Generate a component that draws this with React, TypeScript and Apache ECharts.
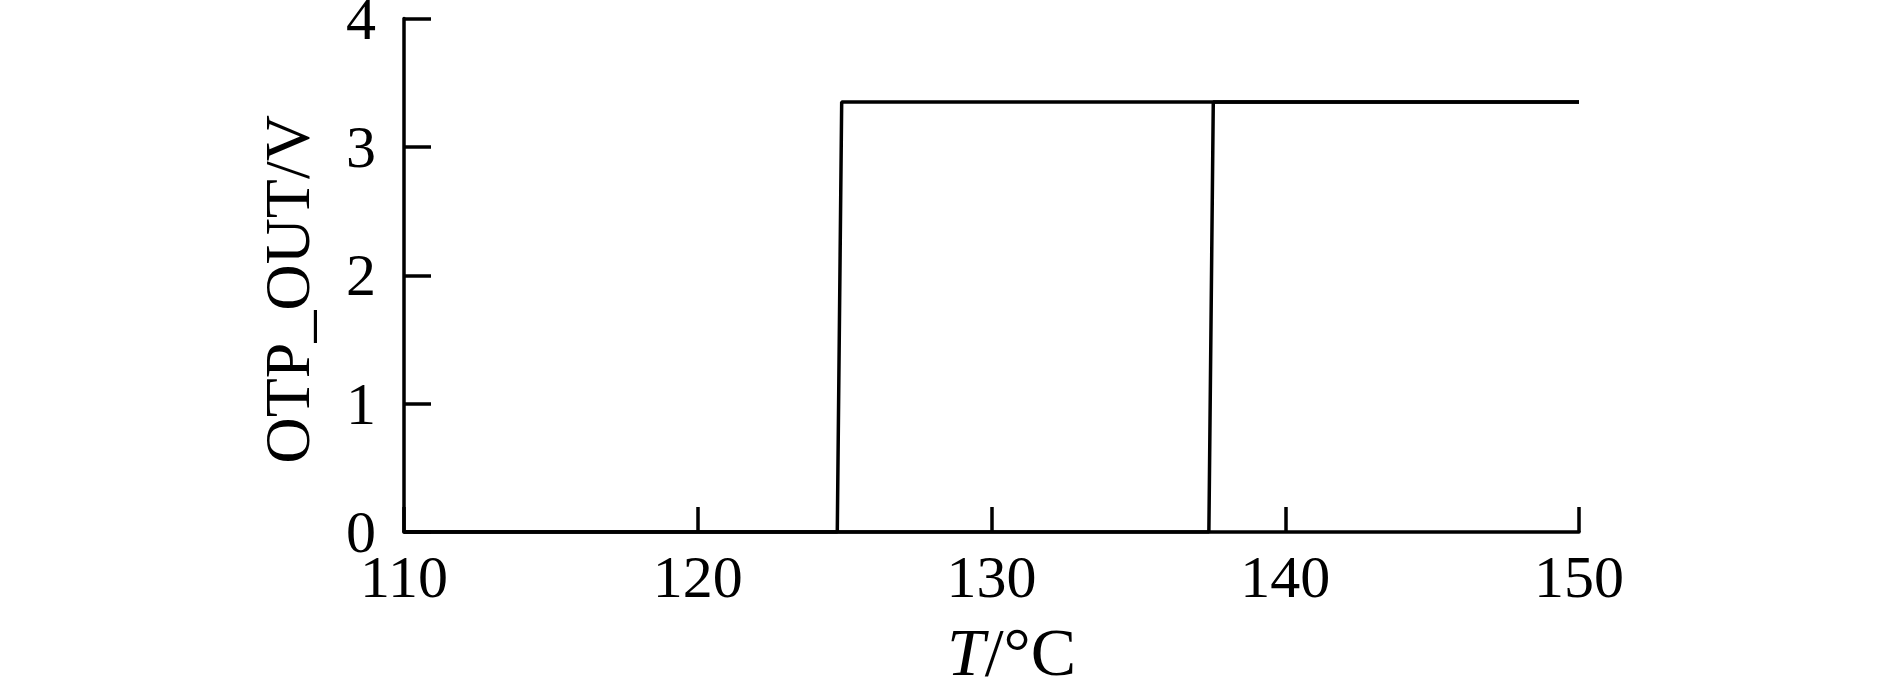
import React, { useEffect, useRef } from "react";
import * as echarts from "echarts";

const xTicks = [110, 120, 130, 140, 150];
const yTicks = [0, 1, 2, 3, 4];
const risingT = [110, 124.75, 124.9, 150];
const risingV = [0, 0, 3.35, 3.35];
const fallingT = [110, 137.4, 137.55, 150];
const fallingV = [0, 0, 3.35, 3.35];

const FONT = "'Times New Roman', 'Liberation Serif', serif";

export default function App() {
  const ref = useRef<HTMLDivElement>(null);
  useEffect(() => {
    if (!ref.current) return;
    const chart = echarts.init(ref.current, null, { renderer: "svg" });
    const pairs = (xs: number[], ys: number[]) => xs.map((x, i) => [x, ys[i]]);
    chart.setOption({
      animation: false,
      backgroundColor: "#ffffff",
      grid: {
        left: 404,
        top: 18.5,
        right: 310,
        bottom: 147,
        containLabel: false,
        outerBoundsMode: "none",
      },
      xAxis: {
        type: "value",
        min: xTicks[0],
        max: xTicks[xTicks.length - 1],
        interval: 10,
        name: "{i|T}/°C",
        nameLocation: "middle",
        nameGap: 86,
        nameTextStyle: {
          fontFamily: FONT,
          fontSize: 68,
          color: "#000",
          padding: [0, 0, 0, 40],
          rich: {
            i: { fontFamily: FONT, fontSize: 68, fontStyle: "italic", color: "#000" },
          },
        },
        axisLine: { show: true, lineStyle: { color: "#000", width: 3.5 } },
        axisTick: { show: true, inside: true, length: 25, lineStyle: { color: "#000", width: 3.5 } },
        axisLabel: { fontFamily: FONT, fontSize: 60, color: "#000", margin: 15, hideOverlap: false },
        splitLine: { show: false },
      },
      yAxis: {
        type: "value",
        min: yTicks[0],
        max: yTicks[yTicks.length - 1],
        interval: 1,
        name: "OTP_OUT/V",
        nameLocation: "middle",
        nameGap: 85,
        nameTextStyle: { fontFamily: FONT, fontSize: 64, color: "#000", padding: [0, 28, 0, 0] },
        axisLine: { show: true, lineStyle: { color: "#000", width: 3.5 } },
        axisTick: { show: true, inside: true, length: 27, lineStyle: { color: "#000", width: 3.5 } },
        axisLabel: { fontFamily: FONT, fontSize: 60, color: "#000", margin: 28, hideOverlap: false },
        splitLine: { show: false },
      },
      series: [
        {
          type: "line",
          data: pairs(risingT, risingV),
          showSymbol: false,
          lineStyle: { color: "#000", width: 3.5 },
          z: 5,
        },
        {
          type: "line",
          data: pairs(fallingT, fallingV),
          showSymbol: false,
          lineStyle: { color: "#000", width: 3.5 },
          z: 5,
        },
      ],
    });
    return () => chart.dispose();
  }, []);
  return (
    <div
      ref={ref}
      style={{ position: "fixed", left: 0, top: 0, width: 1889, height: 679, background: "#fff" }}
    />
  );
}
